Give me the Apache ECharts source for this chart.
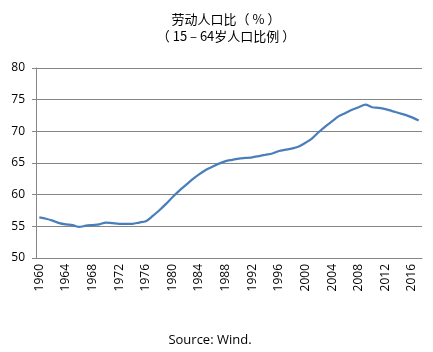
<!DOCTYPE html>
<html lang="zh">
<head>
    <meta charset="UTF-8">
    <title>劳动人口比</title>
    <script src="https://cdn.jsdelivr.net/npm/echarts@6/dist/echarts.min.js"></script>
    <style>
        body { margin: 0; background: #fff; }
    </style>
</head>
<body>
<div id="chart" style="width: 433px; height: 352px;"></div>
<script>
    // 年份 1960 - 2017
    var years = [];
    for (var y = 1960; y <= 2017; y++) years.push(String(y));

    // 15-64岁人口占比 (%)
    var ratio = [
        56.4, 56.2, 55.9, 55.5, 55.3, 55.2, 54.9, 55.1, 55.2, 55.3,
        55.6, 55.5, 55.4, 55.4, 55.4, 55.6, 55.8, 56.6, 57.5, 58.5,
        59.6, 60.6, 61.5, 62.4, 63.2, 63.9, 64.4, 64.9, 65.3, 65.5,
        65.7, 65.8, 65.9, 66.1, 66.3, 66.5, 66.9, 67.1, 67.3, 67.6,
        68.2, 68.9, 69.9, 70.8, 71.6, 72.4, 72.9, 73.4, 73.8, 74.2,
        73.8, 73.7, 73.5, 73.2, 72.9, 72.6, 72.2, 71.7
    ];

    var yTicks = [50, 55, 60, 65, 70, 75, 80];

    var chart = echarts.init(document.getElementById('chart'));
    var gray = '#868686';
    var option = {
        animation: false,
        title: [{
            text: '劳动人口比（ % ）\n（ 15 – 64岁人口比例 ）',
            left: 221,
            top: 6,
            textAlign: 'center',
            textStyle: {
                fontFamily: 'Noto Sans CJK SC',
                fontSize: 13,
                fontWeight: 'normal',
                color: '#000',
                lineHeight: 17
            }
        }, {
            text: 'Source: Wind.',
            left: 205,
            top: 329,
            textAlign: 'center',
            textStyle: {
                fontFamily: 'Open Sans',
                fontSize: 13,
                fontWeight: 'normal',
                color: '#000'
            }
        }],
        grid: { left: 36, right: 11, top: 68, bottom: 94 },
        xAxis: {
            type: 'category',
            data: years,
            boundaryGap: true,
            axisLine: { lineStyle: { color: gray, width: 1 } },
            axisTick: { interval: 3, length: 4, lineStyle: { color: gray } },
            axisLabel: {
                interval: 3,
                rotate: 90,
                margin: 6,
                fontFamily: 'Open Sans',
                fontSize: 12,
                color: '#000'
            }
        },
        yAxis: {
            type: 'value',
            min: yTicks[0],
            max: yTicks[yTicks.length - 1],
            interval: 5,
            axisLine: { show: true, lineStyle: { color: gray } },
            axisTick: { show: true, length: 4, lineStyle: { color: gray } },
            splitLine: { lineStyle: { color: gray, width: 1 } },
            axisLabel: {
                margin: 11,
                fontFamily: 'Open Sans',
                fontSize: 12,
                color: '#000'
            }
        },
        series: [{
            type: 'line',
            data: ratio,
            symbol: 'none',
            smooth: 0.3,
            lineStyle: { color: '#4A7EBB', width: 2.25 }
        }]
    };
    chart.setOption(option);
</script>
</body>
</html>
